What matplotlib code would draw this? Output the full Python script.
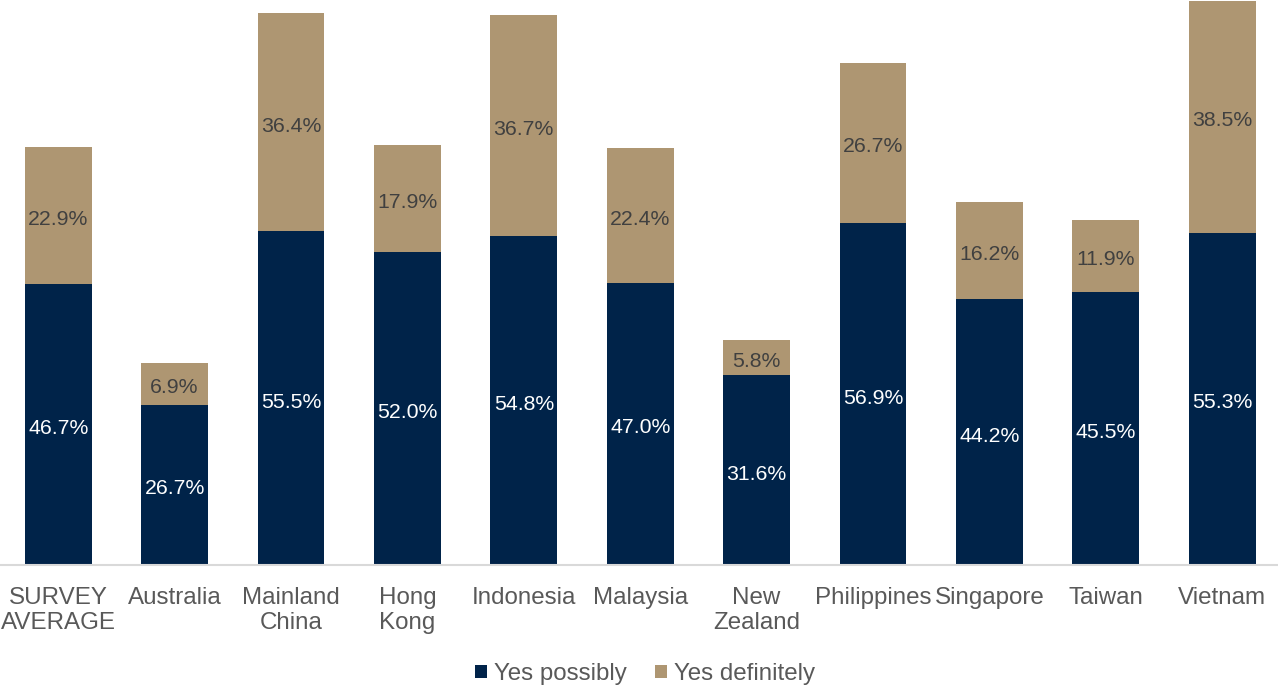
import matplotlib
matplotlib.use("Agg")
import matplotlib.pyplot as plt
from matplotlib.patches import Patch
import numpy as np

plt.rcParams['font.family'] = ['Liberation Sans', 'DejaVu Sans']

categories = ["SURVEY\nAVERAGE", "Australia", "Mainland\nChina", "Hong\nKong", "Indonesia",
              "Malaysia", "New\nZealand", "Philippines", "Singapore", "Taiwan", "Vietnam"]
yes_possibly = [46.7, 26.7, 55.5, 52.0, 54.8, 47.0, 31.6, 56.9, 44.2, 45.5, 55.3]
yes_definitely = [22.9, 6.9, 36.4, 17.9, 36.7, 22.4, 5.8, 26.7, 16.2, 11.9, 38.5]

navy = "#002349"
tan = "#AE9672"

fig = plt.figure(figsize=(12.78, 6.91), dpi=100)
ax = fig.add_axes([0.0, 0.1823, 1.0019, 0.8177])

x = np.arange(len(categories))
w = 0.575
ax.bar(x, yes_possibly, width=w, color=navy, label="Yes possibly")
ax.bar(x, yes_definitely, width=w, bottom=yes_possibly, color=tan, label="Yes definitely")

for xi, p, d in zip(x, yes_possibly, yes_definitely):
    ax.annotate(f"{p:.1f}%", (xi, p / 2), xytext=(0, -1.5), textcoords="offset points",
                ha="center", va="center_baseline", color="white", fontsize=15.3)
    ax.annotate(f"{d:.1f}%", (xi, p + d / 2), xytext=(0, -1.5), textcoords="offset points",
                ha="center", va="center_baseline", color="#404040", fontsize=15.3)

ax.set_xlim(-0.5, len(categories) - 0.5)
ax.set_ylim(0, 94)
ax.set_xticks(x)
ax.set_xticklabels(categories, fontsize=17.4, color="#595959", linespacing=1.2)
ax.tick_params(axis="x", length=0, pad=15.5)
ax.set_yticks([])
for s in ["top", "left", "right"]:
    ax.spines[s].set_visible(False)
ax.spines["bottom"].set_color("#D9D9D9")
ax.spines["bottom"].set_linewidth(1.5)

handles = [Patch(facecolor=navy), Patch(facecolor=tan)]
leg = fig.legend(handles, ["Yes possibly", "Yes definitely"], loc="center",
                 bbox_to_anchor=(645 / 1278, 1 - 674 / 691), ncol=2, frameon=False,
                 fontsize=17.4, handlelength=0.5, handleheight=0.5,
                 handletextpad=0.25, columnspacing=1.2)
for t in leg.get_texts():
    t.set_color("#595959")

fig.savefig("out.png", dpi=100)
